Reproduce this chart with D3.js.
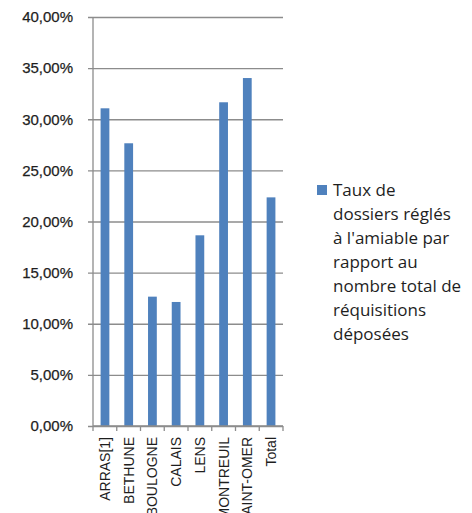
<!DOCTYPE html>
<html lang="fr">
<head>
<meta charset="utf-8">
<title>Taux de dossiers réglés à l'amiable</title>
<script src="https://cdn.jsdelivr.net/npm/d3@7"></script>
<style>
  body { margin: 0; background: #fff; }
  .tick text { fill: #1e1e1e; }
</style>
</head>
<body>
<script>
// data
var categories = ["ARRAS[1]", "BETHUNE", "BOULOGNE", "CALAIS", "LENS", "MONTREUIL", "SAINT-OMER", "Total"];
var values = [0.3107, 0.2765, 0.1265, 0.1213, 0.1865, 0.3166, 0.3403, 0.2236];
var yTicks = [0, 0.05, 0.10, 0.15, 0.20, 0.25, 0.30, 0.35, 0.40];
var legendLines = ["Taux de", "dossiers réglés", "à l'amiable par", "rapport au", "nombre total de", "réquisitions", "déposées"];

var w = 472, h = 513;
var mLeft = 93, mRight = 283, mTop = 17, mBottom = 426;

var svg = d3.select("body").append("svg")
  .attr("width", w)
  .attr("height", h);

var x = d3.scaleBand()
  .domain(categories)
  .range([mLeft, mRight])
  .paddingInner(0.63)
  .paddingOuter(0.32);

var y = d3.scaleLinear()
  .domain([0, 0.40])
  .range([mBottom, mTop]);

var fmt = function(d) { return d3.format(".2f")(d * 100).replace(".", ",") + "%"; };

// gridlines + y labels
var yAxis = d3.axisLeft(y)
  .tickValues(yTicks)
  .tickSize(-(mRight - mLeft))
  .tickFormat(fmt)
  .tickPadding(20);

var gy = svg.append("g")
  .attr("transform", "translate(" + mLeft + ",0)")
  .call(yAxis);
gy.select(".domain").remove();
gy.selectAll(".tick line")
  .attr("x1", -5)
  .attr("stroke", "#8c8c8c")
  .attr("stroke-width", 1.3);
gy.selectAll(".tick text")
  .attr("font-family", "Liberation Sans, Arial, sans-serif")
  .attr("font-size", 15)
  .attr("stroke", "#1e1e1e")
  .attr("stroke-width", 0.25);

// vertical axis line
svg.append("line")
  .attr("x1", mLeft).attr("x2", mLeft)
  .attr("y1", y(0.40)).attr("y2", y(0))
  .attr("stroke", "#8c8c8c")
  .attr("stroke-width", 1.3);

// bars
svg.selectAll("rect.bar")
  .data(values)
  .enter().append("rect")
  .attr("class", "bar")
  .attr("x", function(d, i) { return x(categories[i]); })
  .attr("y", function(d) { return y(d); })
  .attr("width", x.bandwidth())
  .attr("height", function(d) { return y(0) - y(d); })
  .attr("fill", "#4f81bd");

// x axis: ticks at band edges
var edges = d3.range(categories.length + 1).map(function(i) { return mLeft + i * (mRight - mLeft) / categories.length; });
svg.selectAll("line.xtick")
  .data(edges)
  .enter().append("line")
  .attr("class", "xtick")
  .attr("x1", function(d) { return d; })
  .attr("x2", function(d) { return d; })
  .attr("y1", mBottom)
  .attr("y2", mBottom + 5)
  .attr("stroke", "#8c8c8c")
  .attr("stroke-width", 1.3);

svg.append("line")
  .attr("x1", mLeft).attr("x2", mRight)
  .attr("y1", mBottom).attr("y2", mBottom)
  .attr("stroke", "#8c8c8c")
  .attr("stroke-width", 1.3);

// rotated category labels
svg.selectAll("text.xlabel")
  .data(categories)
  .enter().append("text")
  .attr("class", "xlabel")
  .attr("transform", function(d) {
    return "translate(" + (x(d) + x.bandwidth() / 2 + 5) + "," + (mBottom + 11) + ") rotate(-90)";
  })
  .attr("text-anchor", "end")
  .attr("font-family", "Liberation Sans Narrow, Liberation Sans, Arial, sans-serif")
  .attr("font-size", 14)
  .attr("fill", "#1e1e1e")
  .text(function(d) { return d; });

// legend
var lg = svg.append("g");
lg.append("rect")
  .attr("x", 317).attr("y", 185)
  .attr("width", 10).attr("height", 10)
  .attr("fill", "#4f81bd");
lg.selectAll("text")
  .data(legendLines)
  .enter().append("text")
  .attr("x", 333)
  .attr("y", function(d, i) { return 196 + i * 24; })
  .attr("font-family", "Open Sans, sans-serif")
  .attr("font-size", 17)
  .attr("fill", "#1e1e1e")
  .text(function(d) { return d; });
</script>
</body>
</html>
